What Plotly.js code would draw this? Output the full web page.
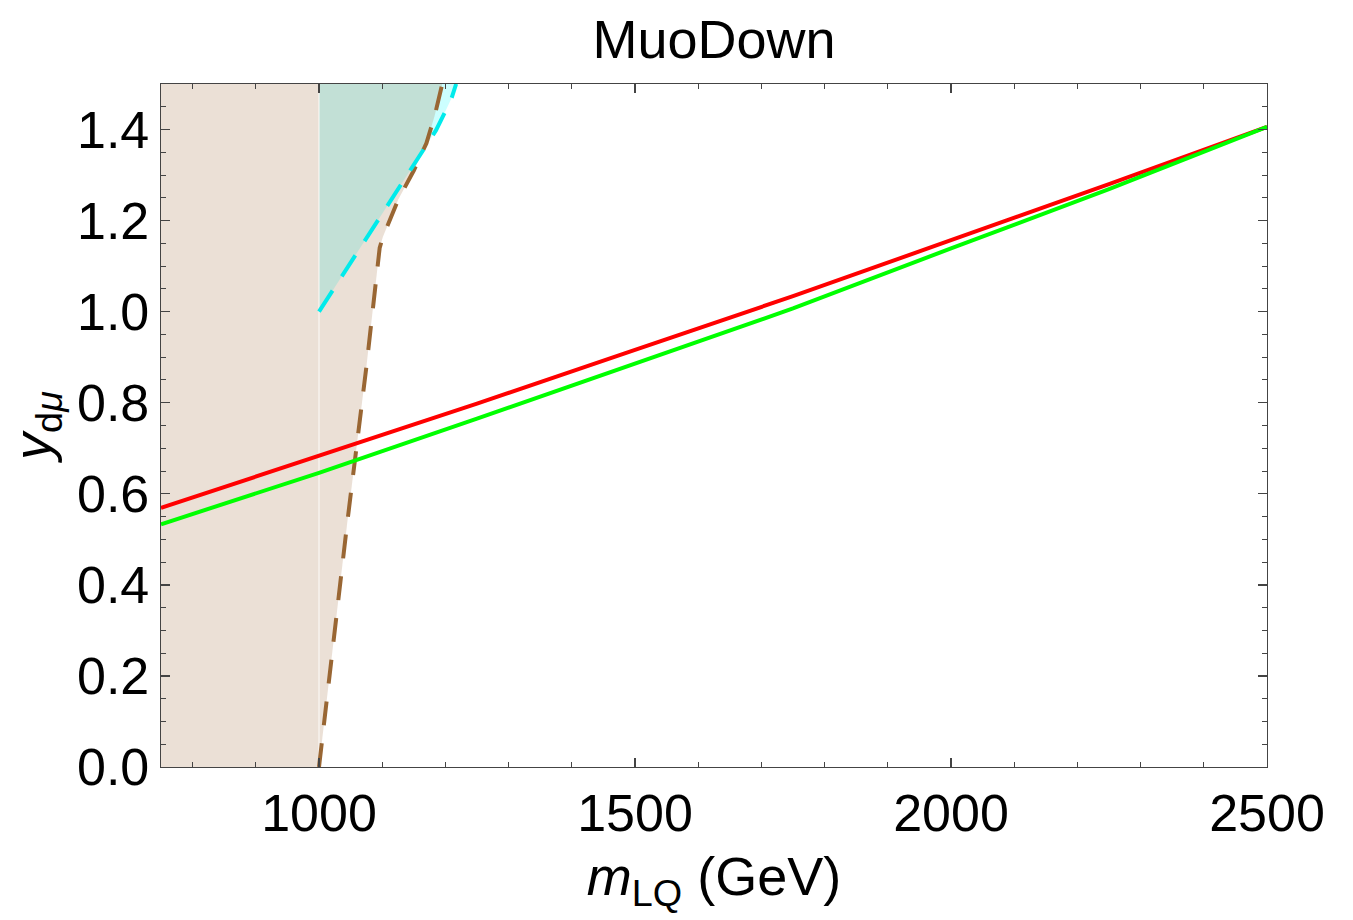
<!DOCTYPE html>
<html>
<head>
<meta charset="utf-8">
<script src="https://cdn.plot.ly/plotly-3.0.1.min.js"></script>
<style>html,body{margin:0;padding:0;background:#fff;}#chart{width:1353px;height:920px;}</style>
</head>
<body>
<div id="chart"></div>
<script>
// ---- data ----
const massRed   = [750, 1000, 1250, 1500, 1750, 2000, 2250, 2500];
const yRed      = [0.569, 0.683, 0.798, 0.916, 1.034, 1.157, 1.280, 1.406];
const massGreen = [750, 1000, 1250, 1500, 1750, 2000, 2250, 2500];
const yGreen    = [0.533, 0.646, 0.765, 0.885, 1.007, 1.139, 1.269, 1.406];
// brown dashed boundary
const massBrown = [1000, 1017, 1045, 1075, 1096, 1101, 1125, 1150, 1170, 1183, 1195];
const yBrown    = [0.0, 0.208, 0.54, 0.879, 1.14, 1.164, 1.245, 1.31, 1.37, 1.43, 1.5];
// cyan dashed boundary
const massCyan  = [1000, 1100, 1185, 1200, 1210, 1217];
const yCyan     = [1.0, 1.215, 1.398, 1.44, 1.47, 1.5];
const xMin = 750, xMax = 2500, yMin = 0, yMax = 1.5;
const xTickVals = [1000, 1500, 2000, 2500];
const yTickVals = [0, 0.2, 0.4, 0.6, 0.8, 1.0, 1.2, 1.4];

const font = "Liberation Sans, Arial, Helvetica, sans-serif";
const traces = [];

// cyan region (left/above cyan boundary, starting at m = 1000)
traces.push({
  x: massCyan.concat([massCyan[0]]),
  y: yCyan.concat([yMax]),
  mode: 'lines', fill: 'toself', fillcolor: 'rgba(0,255,255,0.2)',
  line: {width: 0}, hoverinfo: 'skip', showlegend: false
});
// brown region part 1: m < 1000
traces.push({
  x: [xMin, massBrown[0], massBrown[0], xMin],
  y: [yMin, yMin, yMax, yMax],
  mode: 'lines', fill: 'toself', fillcolor: 'rgba(153,102,51,0.2)',
  line: {width: 0}, hoverinfo: 'skip', showlegend: false
});
// brown region part 2: between m = 1000 and brown boundary
traces.push({
  x: massBrown.concat([massBrown[0]]),
  y: yBrown.concat([yMax]),
  mode: 'lines', fill: 'toself', fillcolor: 'rgba(153,102,51,0.2)',
  line: {width: 0}, hoverinfo: 'skip', showlegend: false
});
// thin seam at m = 1000
traces.push({
  x: [massBrown[0], massBrown[0]], y: [yMin, yMax],
  mode: 'lines', line: {color: 'rgba(255,255,255,0.75)', width: 1.2},
  hoverinfo: 'skip', showlegend: false
});
// brown dashed
traces.push({
  x: massBrown, y: yBrown, mode: 'lines',
  line: {color: 'rgb(153,102,51)', width: 4, dash: '24px,18px'},
  hoverinfo: 'skip', showlegend: false
});
// cyan dashed
traces.push({
  x: massCyan, y: yCyan, mode: 'lines',
  line: {color: 'rgb(0,235,235)', width: 4, dash: '25px,17px'},
  hoverinfo: 'skip', showlegend: false
});
// red
traces.push({
  x: massRed, y: yRed, mode: 'lines',
  line: {color: 'rgb(255,0,0)', width: 4},
  hoverinfo: 'skip', showlegend: false
});
// green
traces.push({
  x: massGreen, y: yGreen, mode: 'lines',
  line: {color: 'rgb(0,255,0)', width: 4},
  hoverinfo: 'skip', showlegend: false
});

const frame = '#444444';
const layout = {
  width: 1353, height: 920,
  margin: {l: 161, r: 86, t: 84, b: 153},
  paper_bgcolor: '#ffffff', plot_bgcolor: '#ffffff',
  font: {family: font, color: '#000', size: 52},
  title: {text: 'MuoDown', font: {family: font, size: 54, color: '#000'},
          x: 0.5, xref: 'paper', xanchor: 'center', y: 0.957, yref: 'container', yanchor: 'middle'},
  xaxis: {
    range: [xMin, xMax], tickmode: 'array', tickvals: xTickVals,
    ticks: 'inside', ticklen: 9, tickwidth: 1.3, tickcolor: frame,
    showline: true, linecolor: frame, linewidth: 1.3, mirror: 'ticks',
    showgrid: false, zeroline: false,
    minor: {dtick: 100, tick0: 0, ticks: 'inside', ticklen: 5, tickwidth: 1, tickcolor: frame, showgrid: false},
    tickfont: {family: font, size: 52, color: '#000'},
    title: {text: '<i>m</i><sub>LQ</sub> (GeV)', font: {family: font, size: 54, color: '#000'}, standoff: 16},
    automargin: false
  },
  yaxis: {
    range: [yMin, yMax], tickmode: 'array', tickvals: yTickVals, tickformat: '.1f',
    ticks: 'inside', ticklen: 9, tickwidth: 1.3, tickcolor: frame,
    showline: true, linecolor: frame, linewidth: 1.3, mirror: 'ticks',
    showgrid: false, zeroline: false,
    minor: {dtick: 0.05, tick0: 0, ticks: 'inside', ticklen: 5, tickwidth: 1, tickcolor: frame, showgrid: false},
    tickfont: {family: font, size: 52, color: '#000'},
    title: {text: '<i>y</i><sub>d<i>μ</i></sub>', font: {family: font, size: 54, color: '#000'}, standoff: 8},
    automargin: false
  },
  showlegend: false
};

Plotly.newPlot('chart', traces, layout, {displayModeBar: false, staticPlot: true});
</script>
</body>
</html>
